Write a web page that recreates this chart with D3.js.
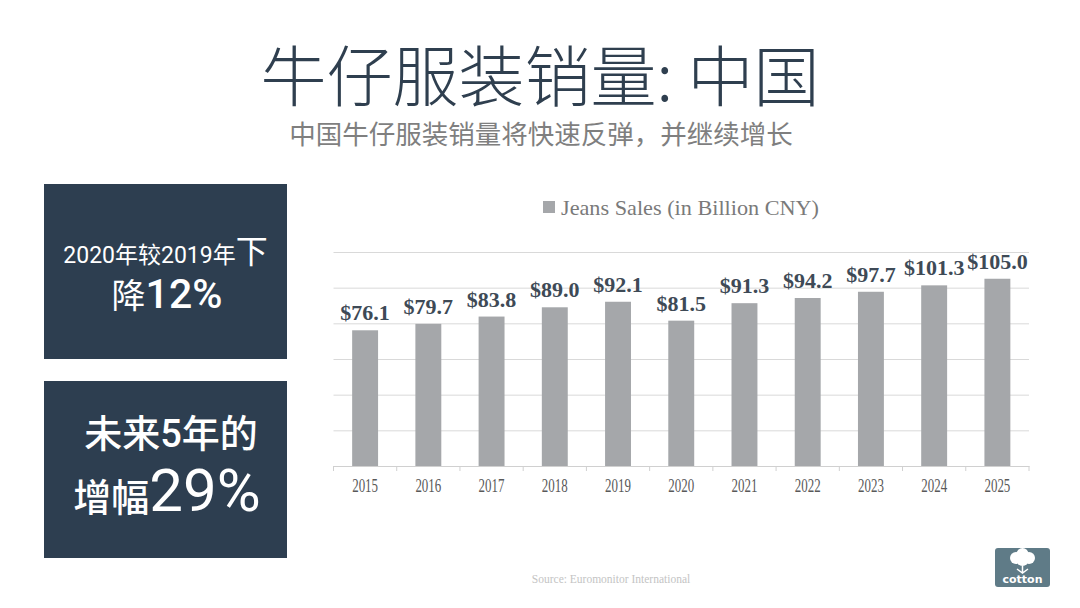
<!DOCTYPE html>
<html>
<head>
<meta charset="utf-8">
<script src="https://cdn.jsdelivr.net/npm/d3@7/dist/d3.min.js"></script>
<style>
  html, body { margin: 0; padding: 0; background: #fff; }
  svg { display: block; }
</style>
</head>
<body>
<div id="chart"></div>
<script>
// data
var years = ["2015", "2016", "2017", "2018", "2019", "2020", "2021", "2022", "2023", "2024", "2025"];
var sales = [76.1, 79.7, 83.8, 89.0, 92.1, 81.5, 91.3, 94.2, 97.7, 101.3, 105.0];
var gridTicks = [0, 20, 40, 60, 80, 100, 120];
var seriesName = "Jeans Sales (in Billion CNY)";

var title = "牛仔服装销量: 中国";
var subtitle = "中国牛仔服装销量将快速反弹，并继续增长";
var sourceNote = "Source: Euromonitor International";

var W = 1080, H = 608;
var svg = d3.select("#chart").append("svg")
	.attr("width", W)
	.attr("height", H);

var cjk = "'Noto Sans CJK SC', 'Noto Sans', sans-serif";
var boxFont = "Roboto, 'Noto Sans CJK SC', sans-serif";
var serif = "'Liberation Serif', 'DejaVu Serif', serif";

// title + subtitle
svg.append("text")
	.attr("x", 540).attr("y", 72)
	.attr("text-anchor", "middle")
	.attr("dominant-baseline", "central")
	.style("font-family", cjk)
	.style("font-weight", 300)
	.style("font-size", "66px")
	.style("fill", "#2f3f4f")
	.text(title);

svg.append("text")
	.attr("x", 541).attr("y", 132)
	.attr("text-anchor", "middle")
	.attr("dominant-baseline", "central")
	.style("font-family", cjk)
	.style("font-size", "26.5px")
	.style("fill", "#7f7f7f")
	.text(subtitle);

// left callout boxes
var boxFill = "#2d3e50";
svg.append("rect").attr("x", 44).attr("y", 184).attr("width", 243).attr("height", 175).attr("fill", boxFill);
svg.append("rect").attr("x", 44).attr("y", 381).attr("width", 243).attr("height", 177).attr("fill", boxFill);

var t1 = svg.append("text")
	.attr("x", 165.5).attr("y", 263)
	.attr("text-anchor", "middle")
	.style("font-family", boxFont)
	.style("fill", "#fff");
t1.append("tspan").style("font-size", "23px").text("2020年较2019年");
t1.append("tspan").style("font-size", "32px").text("下");

var t2 = svg.append("text")
	.attr("x", 167).attr("y", 308)
	.attr("text-anchor", "middle")
	.style("font-family", boxFont)
	.style("fill", "#fff");
t2.append("tspan").style("font-size", "34px").text("降");
t2.append("tspan").style("font-size", "41px").style("font-weight", 500).text("12%");

svg.append("text")
	.attr("x", 171).attr("y", 447)
	.attr("text-anchor", "middle")
	.style("font-family", boxFont)
	.style("font-weight", 500)
	.style("font-size", "38px")
	.style("fill", "#fff")
	.text("未来5年的");

var t4 = svg.append("text")
	.attr("x", 167).attr("y", 511)
	.attr("text-anchor", "middle")
	.style("font-family", boxFont)
	.style("fill", "#fff");
t4.append("tspan").style("font-size", "38px").style("font-weight", 500).text("增幅");
t4.append("tspan").style("font-size", "60px").style("font-weight", 400).text("29%");

// chart area
var plotLeft = 333.5, plotRight = 1029, plotTop = 252, plotBottom = 466;

var x = d3.scaleBand()
	.domain(years)
	.range([plotLeft, plotRight])
	.paddingInner(0.59)
	.paddingOuter(0.295);

var y = d3.scaleLinear()
	.domain([gridTicks[0], gridTicks[gridTicks.length - 1]])
	.range([plotBottom, plotTop]);

// gridlines
var grid = svg.append("g")
	.attr("transform", "translate(" + plotLeft + ",0)")
	.call(d3.axisLeft(y).tickValues(gridTicks.slice(1)).tickSize(-(plotRight - plotLeft)).tickFormat(""));
grid.select(".domain").remove();
grid.selectAll("line").attr("stroke", "#d9d9d9").attr("stroke-width", 1);

// bars
svg.selectAll(".bar")
	.data(sales)
	.enter().append("rect")
	.attr("class", "bar")
	.attr("x", function(d, i) { return x(years[i]); })
	.attr("y", function(d) { return y(d); })
	.attr("width", x.bandwidth())
	.attr("height", function(d) { return y(0) - y(d); })
	.attr("fill", "#a5a7aa");

// value labels
svg.selectAll(".lbl")
	.data(sales)
	.enter().append("text")
	.attr("class", "lbl")
	.attr("x", function(d, i) { return x(years[i]) + x.bandwidth() / 2; })
	.attr("y", function(d) { return y(d) - 10; })
	.attr("text-anchor", "middle")
	.style("font-family", serif)
	.style("font-weight", 700)
	.style("font-size", "22px")
	.style("fill", "#3e4a56")
	.text(function(d) { return "$" + d.toFixed(1); });

// x axis
var xAxis = svg.append("g")
	.attr("transform", "translate(0," + plotBottom + ")")
	.call(d3.axisBottom(x).tickSize(0).tickSizeOuter(0).tickPadding(0));
xAxis.select(".domain").attr("stroke", "#d0d0d0");
xAxis.selectAll("text")
	.attr("y", 26)
	.attr("dy", 0)
	.attr("transform", "scale(0.72,1)")
	.style("font-family", serif)
	.style("font-size", "18px")
	.style("fill", "#595959");

// category boundary ticks
var step = x.step();
var bounds = years.map(function(d) { return x(d) - (step - x.bandwidth()) / 2; });
bounds.push(x(years[years.length - 1]) + x.bandwidth() + (step - x.bandwidth()) / 2);
svg.selectAll(".btick")
	.data(bounds)
	.enter().append("line")
	.attr("class", "btick")
	.attr("x1", function(d) { return d; })
	.attr("x2", function(d) { return d; })
	.attr("y1", plotBottom)
	.attr("y2", plotBottom + 5)
	.attr("stroke", "#d0d0d0");

// legend
svg.append("rect")
	.attr("x", 543).attr("y", 201)
	.attr("width", 12).attr("height", 12)
	.attr("fill", "#a5a7aa");
svg.append("text")
	.attr("x", 561).attr("y", 215)
	.attr("textLength", 258)
	.attr("lengthAdjust", "spacingAndGlyphs")
	.style("font-family", serif)
	.style("font-size", "22px")
	.style("fill", "#7a7a7a")
	.text(seriesName);

// source
svg.append("text")
	.attr("x", 611).attr("y", 583)
	.attr("text-anchor", "middle")
	.style("font-family", serif)
	.style("font-size", "11.5px")
	.style("fill", "#c4c4c4")
	.text(sourceNote);

// cotton logo (rough)
var logo = svg.append("g").attr("transform", "translate(995,548)");
logo.append("rect").attr("width", 55).attr("height", 39).attr("rx", 3).attr("fill", "#5f7b87");
[[27.5, 6, 6], [21, 10, 6], [34, 10, 6], [27.5, 12, 6]].forEach(function(c) {
	logo.append("circle").attr("cx", c[0]).attr("cy", c[1]).attr("r", c[2]).attr("fill", "#fff");
});
logo.append("path")
	.attr("d", "M27.5,18 L27.5,25 M22,21 L27.5,25 L33,21")
	.attr("stroke", "#fff").attr("stroke-width", 1.5).attr("fill", "none");
logo.append("text")
	.attr("x", 27.5).attr("y", 35)
	.attr("text-anchor", "middle")
	.style("font-family", "'DejaVu Sans', sans-serif")
	.style("font-size", "11px")
	.style("font-weight", 700)
	.style("fill", "#fff")
	.text("cotton");
</script>
</body>
</html>
